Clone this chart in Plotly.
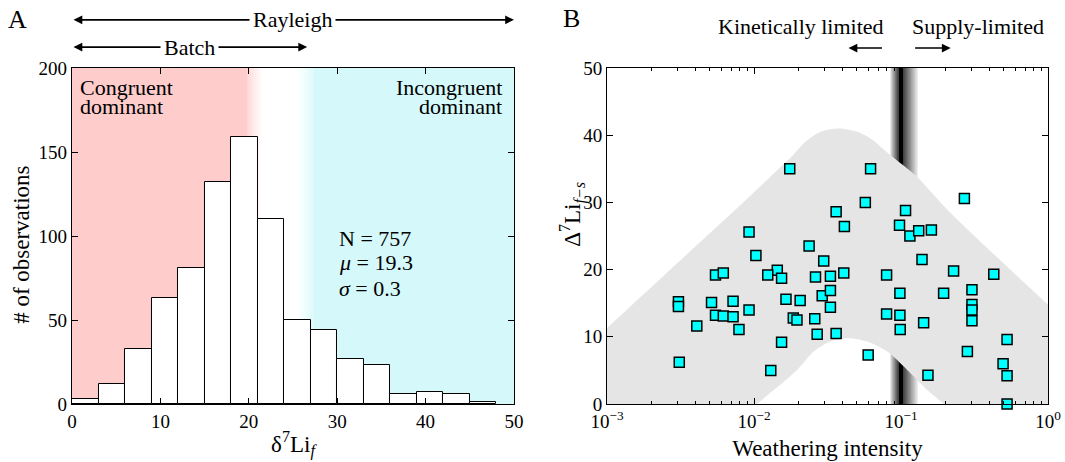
import numpy as np
import plotly.graph_objects as go

# ---------------- Panel A data ----------------
bin_edges = [0, 3, 6, 9, 12, 15, 18, 21, 24, 27, 30, 33, 36, 39, 42, 45, 48]
counts = [3, 12, 33, 63, 81, 132, 159, 110, 50, 44, 27, 23, 6, 7, 6, 1]
xticks_a = [0, 10, 20, 30, 40, 50]
yticks_a = [0, 50, 100, 150, 200]

# ---------------- Panel B data ----------------
weathering = [0.0175, 0.00925, 0.0237, 0.0103, 0.0298, 0.0144, 0.00547, 0.00618,
              0.0124, 0.0154, 0.0262, 0.0331, 0.00306, 0.00306, 0.00514, 0.0072,
              0.0165, 0.0206, 0.0291, 0.00547, 0.00618, 0.0072, 0.00925, 0.00408,
              0.0079, 0.0185, 0.0196, 0.0259, 0.0269, 0.0331, 0.0154, 0.0031,
              0.0130, 0.0621, 0.0572, 0.0362, 0.0412, 0.1074, 0.0977, 0.115,
              0.132, 0.161, 0.270, 0.139, 0.0408, 0.0798, 0.228, 0.428,
              0.0331, 0.0983, 0.195, 0.304, 0.0798, 0.0983, 0.304, 0.304,
              0.304, 0.1426, 0.0988, 0.0362, 0.527, 0.0598, 0.283, 0.495,
              0.1526, 0.527, 0.527]
delta_li = [35.0, 25.6, 23.5, 22.1, 21.3, 19.9, 19.2, 19.5,
            19.2, 18.7, 18.9, 19.0, 15.2, 14.5, 15.1, 15.3,
            15.6, 15.4, 16.1, 13.2, 13.1, 13.0, 14.0, 11.6,
            11.1, 12.8, 12.5, 12.7, 10.4, 14.4, 9.2, 6.2,
            5.0, 35.0, 30.0, 28.6, 26.4, 28.8, 26.6, 25.0,
            25.8, 25.9, 30.6, 21.5, 19.5, 19.2, 19.8, 19.3,
            16.9, 16.5, 16.5, 17.0, 13.4, 13.2, 14.8, 14.0,
            12.4, 12.1, 11.1, 10.5, 9.6, 7.3, 7.8, 6.0,
            4.3, 4.2, 0.0]

# envelope (grey field)
env_up_x = [0.000501, 0.001, 0.00316, 0.00746, 0.0126, 0.0182, 0.0218, 0.0283, 0.0378,
            0.0504, 0.0621, 0.0726, 0.0895, 0.129, 0.207, 0.447, 1.0, 1.995]
env_up_y = [5.2, 11.3, 21.4, 28.9, 33.6, 36.9, 38.8, 40.5, 41.0,
            40.5, 39.5, 38.3, 36.6, 33.8, 28.9, 21.9, 14.8, 8.5]
env_lo_x = [0.00562, 0.01047, 0.01963, 0.02547, 0.0331, 0.04416, 0.0589, 0.0807,
            0.1104, 0.151, 0.1959, 0.3664]
env_lo_y = [-5, 0, 5.06, 7.8, 9.3, 9.8, 9.3, 7.8, 5.06, 2.08, 0, -5]

xticks_b = [0.001, 0.01, 0.1, 1]
xticktext_b = ["10<sup>−3</sup>", "10<sup>−2</sup>", "10<sup>−1</sup>", "10<sup>0</sup>"]
yticks_b = [0, 10, 20, 30, 40, 50]

stats_lines = ["N = 757", "<i>μ</i> = 19.3", "<i>σ</i> = 0.3"]

FONT = "Liberation Serif, Times New Roman, DejaVu Serif, serif"
RED = (255, 204, 204)
CYAN = (213, 249, 250)

fig = go.Figure()

# ---- Panel A background bands (gradient) ----
shapes = []
def mix(c, t):
    return "rgb(%d,%d,%d)" % tuple(round(255 + (ci - 255) * t) for ci in c)

red_full, red_end = 19.8, 21.5
cyan_start, cyan_full = 25.5, 27.3
shapes.append(dict(type="rect", xref="x", yref="y", x0=0, x1=red_full, y0=0, y1=200,
                   fillcolor=mix(RED, 1), line_width=0, layer="below"))
n = 20
for i in range(n):
    a = red_full + (red_end - red_full) * i / n
    b = red_full + (red_end - red_full) * (i + 1) / n
    shapes.append(dict(type="rect", xref="x", yref="y", x0=a, x1=b, y0=0, y1=200,
                       fillcolor=mix(RED, 1 - (i + 0.5) / n), line_width=0, layer="below"))
for i in range(n):
    a = cyan_start + (cyan_full - cyan_start) * i / n
    b = cyan_start + (cyan_full - cyan_start) * (i + 1) / n
    shapes.append(dict(type="rect", xref="x", yref="y", x0=a, x1=b, y0=0, y1=200,
                       fillcolor=mix(CYAN, (i + 0.5) / n), line_width=0, layer="below"))
shapes.append(dict(type="rect", xref="x", yref="y", x0=cyan_full, x1=50, y0=0, y1=200,
                   fillcolor=mix(CYAN, 1), line_width=0, layer="below"))

# ---- Panel B dark vertical band at the transition ----
band_l, core_l, core_r, band_r = np.log10(0.0849), np.log10(0.0963), np.log10(0.1041), np.log10(0.1297)
def grey(t):
    v = round(255 * t)
    return "rgb(%d,%d,%d)" % (v, v, v)
m = 12
for i in range(m):
    a = band_l + (core_l - band_l) * i / m
    b = band_l + (core_l - band_l) * (i + 1) / m
    t = 1 - (i + 0.5) / m
    shapes.append(dict(type="rect", xref="x2", yref="y2", x0=10 ** a, x1=10 ** b, y0=0, y1=50,
                       fillcolor=grey(0.85 * t), line_width=0, layer="below"))
shapes.append(dict(type="rect", xref="x2", yref="y2", x0=10 ** core_l, x1=10 ** core_r, y0=0, y1=50,
                   fillcolor="black", line_width=0, layer="below"))
m = 24
for i in range(m):
    a = core_r + (band_r - core_r) * i / m
    b = core_r + (band_r - core_r) * (i + 1) / m
    t = (i + 0.5) / m
    shapes.append(dict(type="rect", xref="x2", yref="y2", x0=10 ** a, x1=10 ** b, y0=0, y1=50,
                       fillcolor=grey(0.9 * t), line_width=0, layer="below"))

# ---- Histogram bars ----
centers = [(bin_edges[i] + bin_edges[i + 1]) / 2 for i in range(len(counts))]
widths = [bin_edges[i + 1] - bin_edges[i] for i in range(len(counts))]
fig.add_trace(go.Bar(x=centers, y=counts, width=widths, marker=dict(color="white", line=dict(color="black", width=1)),
                     xaxis="x", yaxis="y", showlegend=False, hoverinfo="skip"))

# ---- Grey envelope ----
poly_x = env_up_x + [env_up_x[-1]] + env_lo_x[::-1] + [env_up_x[0]]
poly_y = env_up_y + [-5] + env_lo_y[::-1] + [-5]
fig.add_trace(go.Scatter(x=poly_x, y=poly_y, fill="toself", fillcolor="rgb(229,229,229)",
                         mode="lines", line=dict(width=0, shape="spline", smoothing=0.8),
                         xaxis="x2", yaxis="y2", showlegend=False, hoverinfo="skip"))

# ---- Scatter points ----
fig.add_trace(go.Scatter(x=weathering, y=delta_li, mode="markers",
                         marker=dict(symbol="square", size=10, color="#00ffff",
                                     line=dict(color="black", width=1.5)),
                         xaxis="x2", yaxis="y2", showlegend=False, cliponaxis=False))

tickfont = dict(family=FONT, size=19, color="black")
titlefont = dict(family=FONT, size=23, color="black")
common = dict(showline=True, linecolor="black", linewidth=1.2, mirror="ticks", ticks="inside",
              tickcolor="black", ticklen=6, tickwidth=1, showgrid=False, zeroline=False,
              tickfont=tickfont, automargin=False)

fig.update_layout(
    width=1065, height=462, margin=dict(l=0, r=0, t=0, b=0),
    paper_bgcolor="white", plot_bgcolor="white", bargap=0,
    font=dict(family=FONT, color="black"),
    shapes=shapes,
    xaxis=dict(domain=[0.0676, 0.4826], range=[0, 50], tickvals=xticks_a, anchor="y",
               title=dict(text="δ<sup>7</sup>Li<sub><i>f</i></sub>", font=titlefont, standoff=4), **common),
    yaxis=dict(domain=[0.1255, 0.8528], range=[0, 200], tickvals=yticks_a, anchor="x", **common),
    xaxis2=dict(domain=[0.570, 0.984], type="log", range=[-3, 0], tickvals=xticks_b, ticktext=xticktext_b,
                anchor="y2",
                minor=dict(ticks="inside", ticklen=3, tickcolor="black",
                           tickvals=[k * 10.0 ** e for e in (-3, -2, -1) for k in range(2, 10)]),
                title=dict(text="Weathering intensity", font=titlefont, standoff=8), **common),
    yaxis2=dict(domain=[0.1255, 0.8528], range=[0, 50], tickvals=yticks_b, anchor="x2", **common),
)

txt = dict(family=FONT, size=22, color="black")
ann = []
# y-axis titles
ann.append(dict(x=22 / 1065, y=0.47, xref="paper", yref="paper", text="# of observations",
                textangle=-90, showarrow=False, xanchor="center", yanchor="middle", font=titlefont))
ann.append(dict(x=572 / 1065, y=0.535, xref="paper", yref="paper",
                text="Δ<sup>7</sup>Li<sub><i>f−s</i></sub>",
                textangle=-90, showarrow=False, xanchor="center", yanchor="middle", font=titlefont))
# arrows above panel A
for x0, x1, yp in [(0, 50, 0.957), (0, 26.6, 0.898)]:
    ann.append(dict(x=x1, y=yp, xref="x", yref="paper", ax=x0, ay=0, axref="x", ayref="pixel",
                    text="", showarrow=True, arrowhead=2, arrowside="end+start", arrowsize=1.1,
                    arrowwidth=1.6, arrowcolor="black"))
ann.append(dict(x=25, y=0.957, xref="x", yref="paper", text="Rayleigh", showarrow=False,
                xanchor="center", yanchor="middle", bgcolor="white", borderpad=3, font=txt))
ann.append(dict(x=13.3, y=0.898, xref="x", yref="paper", text="Batch", showarrow=False,
                xanchor="center", yanchor="middle", bgcolor="white", borderpad=3, font=txt))
# texts inside panel A (one annotation per line for tight spacing)
for line, yv in [("Congruent", 188.5), ("dominant", 177.0)]:
    ann.append(dict(x=0.7, y=yv, xref="x", yref="y", text=line, showarrow=False,
                    xanchor="left", yanchor="middle", font=txt))
for line, yv in [("Incongruent", 188.5), ("dominant", 177.0)]:
    ann.append(dict(x=48.9, y=yv, xref="x", yref="y", text=line, showarrow=False,
                    xanchor="right", yanchor="middle", font=txt))
for line, yv in zip(stats_lines, [98.8, 84.0, 69.0]):
    ann.append(dict(x=30.0, y=yv, xref="x", yref="y", text=line, showarrow=False,
                    xanchor="left", yanchor="middle", font=txt))
# panel B arrows and labels
ann.append(dict(x=-1.357, y=0.896, xref="x2", yref="paper", ax=-1.119, ay=0, axref="x2", ayref="pixel",
                text="", showarrow=True, arrowhead=2, arrowsize=1.1, arrowwidth=1.6, arrowcolor="black"))
ann.append(dict(x=-0.662, y=0.896, xref="x2", yref="paper", ax=-0.914, ay=0, axref="x2", ayref="pixel",
                text="", showarrow=True, arrowhead=2, arrowsize=1.1, arrowwidth=1.6, arrowcolor="black"))
ann.append(dict(x=801 / 1065, y=0.9416, xref="paper", yref="paper", text="Kinetically limited",
                xanchor="center", yanchor="middle", showarrow=False, font=txt))
ann.append(dict(x=978 / 1065, y=0.9416, xref="paper", yref="paper", text="Supply-limited",
                xanchor="center", yanchor="middle", showarrow=False, font=txt))
# panel letters
ann.append(dict(x=0.016, y=0.957, xref="paper", yref="paper", text="A", showarrow=False,
                xanchor="center", yanchor="middle", font=dict(family=FONT, size=26, color="black")))
ann.append(dict(x=0.537, y=0.960, xref="paper", yref="paper", text="B", showarrow=False,
                xanchor="center", yanchor="middle", font=dict(family=FONT, size=26, color="black")))
fig.update_layout(annotations=ann)

fig.write_html("out.html")
